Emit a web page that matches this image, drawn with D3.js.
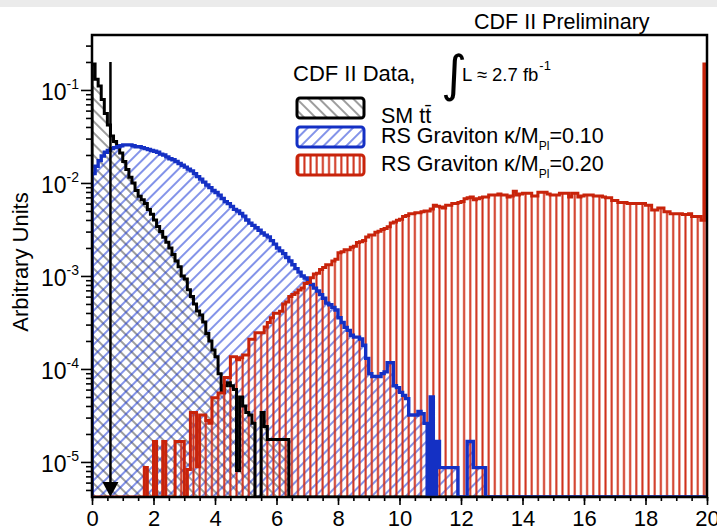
<!DOCTYPE html>
<html>
<head>
<meta charset="utf-8">
<script src="https://cdn.jsdelivr.net/npm/d3@7"></script>
<style>
body { margin: 0; background: #fff; }
text { font-family: "Liberation Sans", Arial, Helvetica, sans-serif; fill: #000; }
</style>
</head>
<body>
<div id="chart"></div>
<script>
// histogram bins: 200 bins of 0.1 from 0 to 20
var binWidth = 0.1
var nBins = 200

// SM ttbar (black)
var smTtbar = [
  0.19, 0.13, 0.11, 0.079, 0.056, 0.042, 0.032, 0.028, 0.025, 0.021,
  0.017, 0.014, 0.0115, 0.010, 0.0083, 0.0072, 0.0066, 0.0060, 0.0052, 0.0046,
  0.0040, 0.0034, 0.0030, 0.0026, 0.0023, 0.0020, 0.0017, 0.00145, 0.00126, 0.0010,
  9.3e-4, 7.1e-4, 6.0e-4, 5.0e-4, 4.2e-4, 3.8e-4, 3.2e-4, 2.4e-4, 2.0e-4, 1.6e-4,
  1.35e-4, 8.9e-5, 5.6e-5, 6.6e-5, 7.1e-5, 6.6e-5, 6.0e-5, 8.1e-6, 5.0e-5, 4.0e-5,
  3.4e-5, 3.2e-5, 2.6e-5, 0, 0, 3.4e-5, 2.4e-5, 1.74e-5, 1.74e-5, 1.74e-5,
  1.74e-5, 1.74e-5, 1.74e-5, 1.74e-5
]

// RS Graviton k/MPl = 0.10 (blue)
var graviton010 = [
  0.0126, 0.0151, 0.0174, 0.0195, 0.0214, 0.0224, 0.0234, 0.0240, 0.0245, 0.0251,
  0.0257, 0.0257, 0.0257, 0.0251, 0.0245, 0.0245, 0.0240, 0.0234, 0.0229, 0.0224,
  0.0219, 0.0214, 0.0204, 0.0200, 0.0191, 0.0182, 0.0178, 0.0170, 0.0162, 0.0155,
  0.0148, 0.0141, 0.0135, 0.0126, 0.0117, 0.0110, 0.0102, 0.0095, 0.0089, 0.0083,
  0.0079, 0.0074, 0.0068, 0.0063, 0.0060, 0.0056, 0.0052, 0.0050, 0.0047, 0.0044,
  0.0040, 0.0037, 0.0035, 0.0033, 0.0031, 0.0029, 0.00275, 0.00263, 0.0024, 0.0022,
  0.0020, 0.00186, 0.00174, 0.00158, 0.00145, 0.00132, 0.0012, 0.0011, 0.0010, 9.5e-4,
  8.9e-4, 8.1e-4, 7.4e-4, 6.9e-4, 6.3e-4, 5.75e-4, 5.1e-4, 4.9e-4, 4.6e-4, 4.3e-4,
  3.55e-4, 3.16e-4, 2.8e-4, 2.6e-4, 2.3e-4, 2.2e-4, 2.2e-4, 2.1e-4, 1.8e-4, 1.3e-4,
  8.9e-5, 8.3e-5, 8.3e-5, 8.3e-5, 8.9e-5, 9.3e-5, 1.17e-4, 1.17e-4, 6.6e-5, 6.3e-5,
  5.6e-5, 5.2e-5, 4.8e-5, 3.2e-5, 3.2e-5, 3.2e-5, 3.5e-5, 3.3e-5, 2.6e-5, 0,
  5.0e-5, 0, 1.66e-5, 8.7e-6, 8.7e-6, 8.7e-6, 8.7e-6, 8.7e-6, 8.7e-6, 0,
  0, 0, 1.66e-5, 1.66e-5, 8.7e-6, 8.7e-6, 8.7e-6, 8.7e-6
]

// RS Graviton k/MPl = 0.20 (red), last bin holds overflow
var graviton020 = [
  0, 0, 0, 0, 0, 0, 0, 0, 0, 0,
  0, 0, 0, 0, 0, 0, 0, 8.7e-6, 0, 0,
  1.66e-5, 0, 0, 1.66e-5, 0, 0, 0, 1.66e-5, 1.66e-5, 1.66e-5,
  0, 8.3e-6, 3.4e-5, 3.4e-5, 8.9e-6, 3.2e-5, 3.2e-5, 2.8e-5, 2.6e-5, 4.9e-5,
  4.9e-5, 5.5e-5, 5.5e-5, 8.1e-5, 8.1e-5, 1.35e-4, 1.35e-4, 1.26e-4, 1.32e-4, 1.41e-4,
  1.41e-4, 2.09e-4, 2.09e-4, 2.45e-4, 2.45e-4, 2.45e-4, 2.82e-4, 3.16e-4, 3.55e-4, 3.98e-4,
  3.98e-4, 4.17e-4, 5.01e-4, 5.25e-4, 6.03e-4, 6.31e-4, 6.61e-4, 7.08e-4, 7.41e-4, 8.32e-4,
  8.51e-4, 9.55e-4, 1.05e-3, 1.07e-3, 1.17e-3, 1.23e-3, 1.32e-3, 1.32e-3, 1.45e-3, 1.51e-3,
  1.78e-3, 1.82e-3, 1.91e-3, 1.91e-3, 2.04e-3, 2.09e-3, 2.29e-3, 2.34e-3, 2.40e-3, 2.63e-3,
  2.75e-3, 2.75e-3, 2.95e-3, 3.02e-3, 3.16e-3, 3.24e-3, 3.39e-3, 3.72e-3, 3.80e-3, 3.98e-3,
  4.07e-3, 4.37e-3, 4.47e-3, 4.68e-3, 4.68e-3, 4.79e-3, 4.79e-3, 4.90e-3, 5.01e-3, 5.01e-3,
  5.25e-3, 5.75e-3, 5.62e-3, 5.50e-3, 5.37e-3, 5.75e-3, 5.75e-3, 6.03e-3, 6.03e-3, 6.17e-3,
  6.31e-3, 6.76e-3, 6.92e-3, 7.08e-3, 6.61e-3, 6.76e-3, 6.92e-3, 7.08e-3, 7.08e-3, 7.41e-3,
  7.41e-3, 7.41e-3, 7.59e-3, 7.41e-3, 7.41e-3, 7.08e-3, 7.24e-3, 8.13e-3, 7.41e-3, 7.59e-3,
  7.76e-3, 7.76e-3, 7.76e-3, 7.24e-3, 7.24e-3, 7.94e-3, 7.94e-3, 7.94e-3, 7.59e-3, 7.41e-3,
  7.41e-3, 7.41e-3, 7.76e-3, 7.76e-3, 7.76e-3, 7.08e-3, 7.76e-3, 7.76e-3, 7.08e-3, 7.24e-3,
  7.41e-3, 7.41e-3, 7.41e-3, 7.24e-3, 7.24e-3, 7.24e-3, 7.08e-3, 6.92e-3, 6.92e-3, 6.46e-3,
  6.46e-3, 6.17e-3, 6.17e-3, 6.17e-3, 6.03e-3, 6.03e-3, 6.03e-3, 6.03e-3, 6.03e-3, 6.03e-3,
  5.75e-3, 5.75e-3, 5.13e-3, 5.13e-3, 5.37e-3, 5.37e-3, 4.90e-3, 4.90e-3, 4.68e-3, 4.68e-3,
  4.68e-3, 4.68e-3, 4.57e-3, 4.57e-3, 4.68e-3, 4.37e-3, 4.37e-3, 4.37e-3, 3.98e-3, 0.19
]

var xTicks = [0, 2, 4, 6, 8, 10, 12, 14, 16, 18, 20]
var yDecades = [1e-5, 1e-4, 1e-3, 1e-2, 1e-1]
var yDecadeLabels = ["-5", "-4", "-3", "-2", "-1"]

// cut arrow
var cutX = 0.6
var cutTop = 0.2

var W = 717, H = 531
var margin = { top: 35, right: 10, bottom: 34, left: 92 },
    width = W - margin.left - margin.right,
    height = H - margin.top - margin.bottom

var svg = d3.select("#chart").append("svg")
    .attr("width", W)
    .attr("height", H)

// grey strip at the very top
svg.append("rect").attr("x", 0).attr("y", 0).attr("width", W).attr("height", 7).attr("fill", "#ebebeb")

var defs = svg.append("defs")

function hatch(id, angle, size, color, lw) {
    var p = defs.append("pattern")
        .attr("id", id)
        .attr("patternUnits", "userSpaceOnUse")
        .attr("width", size).attr("height", size)
        .attr("patternTransform", "rotate(" + angle + ")")
    p.append("line")
        .attr("x1", size / 2).attr("y1", -1)
        .attr("x2", size / 2).attr("y2", size + 1)
        .attr("stroke", color).attr("stroke-width", lw)
}
hatch("hBlack", -45, 8, "#3c3c3c", 1)
hatch("hBlue", 45, 8, "#1c3ad6", 1.1)
hatch("hRed", 0, 6.15, "#cf2f18", 2)

defs.append("clipPath").attr("id", "plotClip")
    .append("rect").attr("width", width).attr("height", height)

var g = svg.append("g")
    .attr("transform", "translate(" + margin.left + "," + margin.top + ")")

var x = d3.scaleLinear().domain([0, 20]).range([0, width])
var y = d3.scaleLog().domain([4.2e-6, 0.39]).range([height, 0])
var yMin = y.domain()[0]

function histPoints(vals) {
    var pts = [[0, yMin]]
    for (var i = 0; i < nBins; i++) {
        var v = i < vals.length ? vals[i] : 0
        pts.push([i * binWidth, v > 0 ? v : yMin])
    }
    pts.push([20, pts[pts.length - 1][1]])
    pts.push([20, yMin])
    return pts
}

var step = d3.line()
    .x(function (d) { return x(d[0]) })
    .y(function (d) { return y(d[1]) })
    .curve(d3.curveStepAfter)

var series = [
    { vals: smTtbar, color: "#000000", fill: "url(#hBlack)", lw: 3 },
    { vals: graviton010, color: "#1430c4", fill: "url(#hBlue)", lw: 3.4 },
    { vals: graviton020, color: "#c8230a", fill: "url(#hRed)", lw: 3 }
]

var plot = g.append("g").attr("clip-path", "url(#plotClip)")

series.forEach(function (s) {
    plot.append("path")
        .datum(histPoints(s.vals))
        .attr("d", step)
        .attr("fill", s.fill)
        .attr("stroke", "none")
})
series.forEach(function (s) {
    plot.append("path")
        .datum(histPoints(s.vals))
        .attr("d", step)
        .attr("fill", "none")
        .attr("stroke", s.color)
        .attr("stroke-width", s.lw)
        .attr("stroke-linejoin", "miter")
})

// cut arrow
plot.append("line")
    .attr("x1", x(cutX)).attr("x2", x(cutX))
    .attr("y1", y(cutTop)).attr("y2", height - 10)
    .attr("stroke", "#000").attr("stroke-width", 2.5)
plot.append("path")
    .attr("d", "M" + (x(cutX) - 8) + "," + (height - 15) + "L" + (x(cutX) + 8) + "," + (height - 15) + "L" + x(cutX) + "," + height + "Z")
    .attr("fill", "#000")

// y axis ticks
var yMinor = []
for (var e = -6; e <= 0; e++) {
    for (var m = 2; m <= 9; m++) {
        var v = m * Math.pow(10, e)
        if (v > y.domain()[0] && v < y.domain()[1]) yMinor.push(v)
    }
}
g.append("g").attr("class", "y axis")
    .call(d3.axisLeft(y).tickValues(yMinor).tickSize(6).tickFormat(""))
g.append("g").attr("class", "y axis")
    .call(d3.axisLeft(y).tickValues(yDecades).tickSize(11).tickFormat(""))

yDecades.forEach(function (d, i) {
    var t = g.append("text")
        .attr("x", -13).attr("y", y(d) + 10)
        .attr("text-anchor", "end")
        .style("font-size", "23px")
    t.append("tspan").text("10")
    t.append("tspan").attr("dy", -11).style("font-size", "14px").text(yDecadeLabels[i])
})

// x axis ticks
g.append("g").attr("class", "x axis")
    .attr("transform", "translate(0," + height + ")")
    .call(d3.axisBottom(x).tickValues(d3.range(0, 20.01, 0.5)).tickSize(4).tickFormat(""))
g.append("g").attr("class", "x axis")
    .attr("transform", "translate(0," + height + ")")
    .call(d3.axisBottom(x).tickValues(xTicks).tickSize(8).tickPadding(5).tickFormat(d3.format("d")))

g.selectAll(".axis .domain").remove()
g.selectAll(".axis line").attr("stroke", "#000").attr("stroke-width", 1.6)
g.selectAll(".x.axis text").style("font-size", "22px").style("font-family", "Liberation Sans, Arial, sans-serif")

// frame
g.append("rect")
    .attr("width", width).attr("height", height)
    .attr("fill", "none").attr("stroke", "#000").attr("stroke-width", 2.5)

// y label
svg.append("text")
    .attr("transform", "translate(28,262) rotate(-90)")
    .attr("text-anchor", "middle")
    .style("font-size", "22px")
    .text("Arbitrary Units")

// title
svg.append("text")
    .attr("x", 474).attr("y", 29)
    .style("font-size", "21.5px")
    .text("CDF II Preliminary")

// legend header
svg.append("text").attr("x", 293).attr("y", 81).style("font-size", "22px").text("CDF II Data,")
svg.append("text").attr("x", 441).attr("y", 91).style("font-size", "50px")
    .style("font-family", "DejaVu Sans").text("\u222B")
var lumi = svg.append("text").attr("x", 462).attr("y", 81).style("font-size", "18.5px").text("L \u2248 2.7 fb")
var lumiEnd = 462 + lumi.node().getComputedTextLength()
svg.append("text").attr("x", lumiEnd + 1).attr("y", 70).style("font-size", "13px").text("-1")

// legend entries
var legendItems = [
    { fill: "url(#hBlack)", color: "#000", y: 98 },
    { fill: "url(#hBlue)", color: "#1430c4", y: 127 },
    { fill: "url(#hRed)", color: "#c8230a", y: 155 }
]
legendItems.forEach(function (d) {
    svg.append("rect")
        .attr("x", 297).attr("y", d.y).attr("width", 67).attr("height", 20)
        .attr("rx", 3)
        .attr("fill", d.fill).attr("stroke", d.color).attr("stroke-width", 3)
})

svg.append("text").attr("x", 381).attr("y", 123).style("font-size", "21.5px").text("SM tt\u0304")

function gravitonLabel(yPos, coupling) {
    var t = svg.append("text").attr("x", 381).attr("y", yPos).style("font-size", "21.5px")
    t.append("tspan").text("RS Graviton \u03BA/M")
    t.append("tspan").attr("dy", 7).style("font-size", "12px").text("Pl")
    t.append("tspan").attr("dy", -7).text("=" + coupling)
}
gravitonLabel(143, "0.10")
gravitonLabel(171, "0.20")
</script>
</body>
</html>
